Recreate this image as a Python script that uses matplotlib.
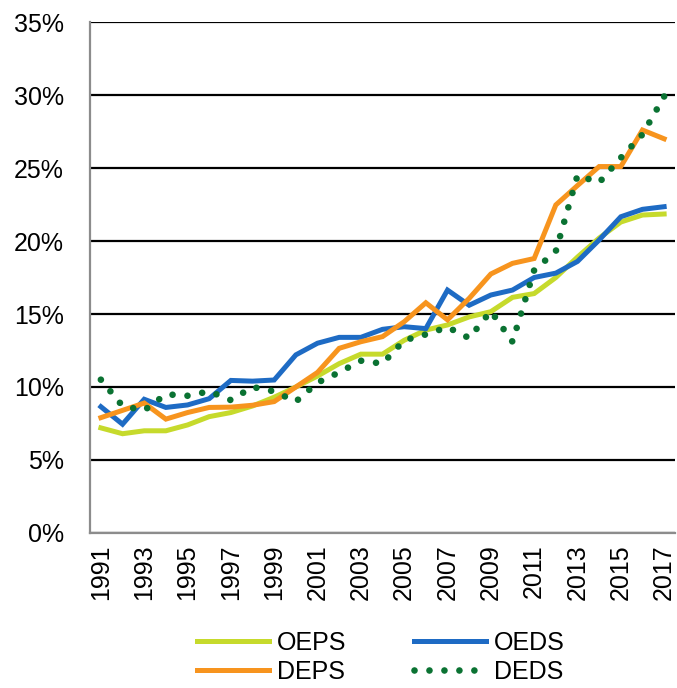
import matplotlib
matplotlib.use("Agg")
import matplotlib.pyplot as plt
import numpy as np
from matplotlib.ticker import FuncFormatter, MultipleLocator

plt.rcParams['font.family'] = ['Liberation Sans', 'DejaVu Sans']

years = list(range(1991, 2018))
year_labels = [str(y) if (y - 1991) % 2 == 0 else "" for y in years]

oeps = [7.2, 6.8, 7.0, 7.0, 7.4, 7.97, 8.25, 8.7, 9.3, 10.0, 10.75, 11.6, 12.25, 12.25,
        13.2, 13.9, 14.25, 14.8, 15.16, 16.14, 16.4, 17.5, 18.9, 20.2, 21.3, 21.78, 21.85]
oeds = [8.65, 7.45, 9.16, 8.6, 8.77, 9.2, 10.45, 10.4, 10.48, 12.2, 13.0, 13.4, 13.4, 13.95,
        14.13, 14.0, 16.64, 15.6, 16.3, 16.64, 17.5, 17.8, 18.6, 20.07, 21.66, 22.17, 22.35]
deps = [7.9, 8.4, 8.9, 7.8, 8.25, 8.6, 8.62, 8.75, 9.0, 10.0, 11.0, 12.65, 13.1, 13.45,
        14.47, 15.77, 14.6, 16.07, 17.74, 18.47, 18.8, 22.47, 23.8, 25.1, 25.1, 27.6, 27.0]
deds = [10.5, 8.7, 8.4, 9.5, 9.4, 9.7, 9.1, 10.0, 9.7, 9.0, 10.3, 11.0, 11.8, 11.6,
        13.2, 13.6, 14.1, 13.35, 15.2, 13.1, 18.0, 19.3, 24.5, 24.0, 25.7, 27.3, 29.9]

DPI = 100
fig = plt.figure(figsize=(6.77, 6.88), dpi=DPI)
ax = fig.add_axes([0.133, 0.2253, 0.864, 0.7427])

x = list(range(len(years)))
ax.set_xlim(-0.5, len(years) - 0.5)
ax.set_ylim(0, 35)

h1, = ax.plot(x, oeps, color='#C6DA2C', lw=3.6, label='OEPS', solid_joinstyle='miter', zorder=3)
h2, = ax.plot(x, oeds, color='#1E6BC4', lw=3.6, label='OEDS', solid_joinstyle='miter', zorder=4)
h3, = ax.plot(x, deps, color='#F7941E', lw=3.6, label='DEPS', solid_joinstyle='miter', zorder=5)

# dotted line: choose spacing so that a dot falls on both ends of the path
dot_lw = 4.8
pts = ax.transData.transform(np.column_stack([x, deds]))
L = np.sum(np.hypot(np.diff(pts[:, 0]), np.diff(pts[:, 1])))
lw_px = dot_lw * DPI / 72
n = max(1, round(L / 15.0))
spacing = L / n / lw_px
h4, = ax.plot(x, deds, color='#0A7232', lw=dot_lw, label='DEDS',
              linestyle=(0, (0.001, spacing - 0.001)), dash_capstyle='round', zorder=6)

ax.yaxis.set_major_locator(MultipleLocator(5))
ax.yaxis.set_major_formatter(FuncFormatter(lambda v, p: f"{v:.0f}%"))
ax.set_xticks(x)
ax.set_xticklabels(year_labels, rotation=90)
ax.tick_params(axis='both', length=0, labelsize=18, colors='black')
ax.tick_params(axis='x', pad=8)
ax.tick_params(axis='y', pad=19)

ax.grid(axis='y', color='black', lw=1.6)
ax.set_axisbelow(True)
for s in ['top', 'right']:
    ax.spines[s].set_visible(False)
for s in ['left', 'bottom']:
    ax.spines[s].set_color('#8C8C8C')
    ax.spines[s].set_linewidth(1.6)
    ax.spines[s].set_zorder(7)

leg = fig.legend([h1, h3, h2, h4], ['OEPS', 'DEPS', 'OEDS', 'DEDS'],
                 loc='center', bbox_to_anchor=(0.562, 0.045), ncol=2, frameon=False,
                 fontsize=18, handlelength=2.9, handletextpad=0.3, columnspacing=2.7,
                 labelspacing=0.2)

fig.savefig('out.png', dpi=DPI)
